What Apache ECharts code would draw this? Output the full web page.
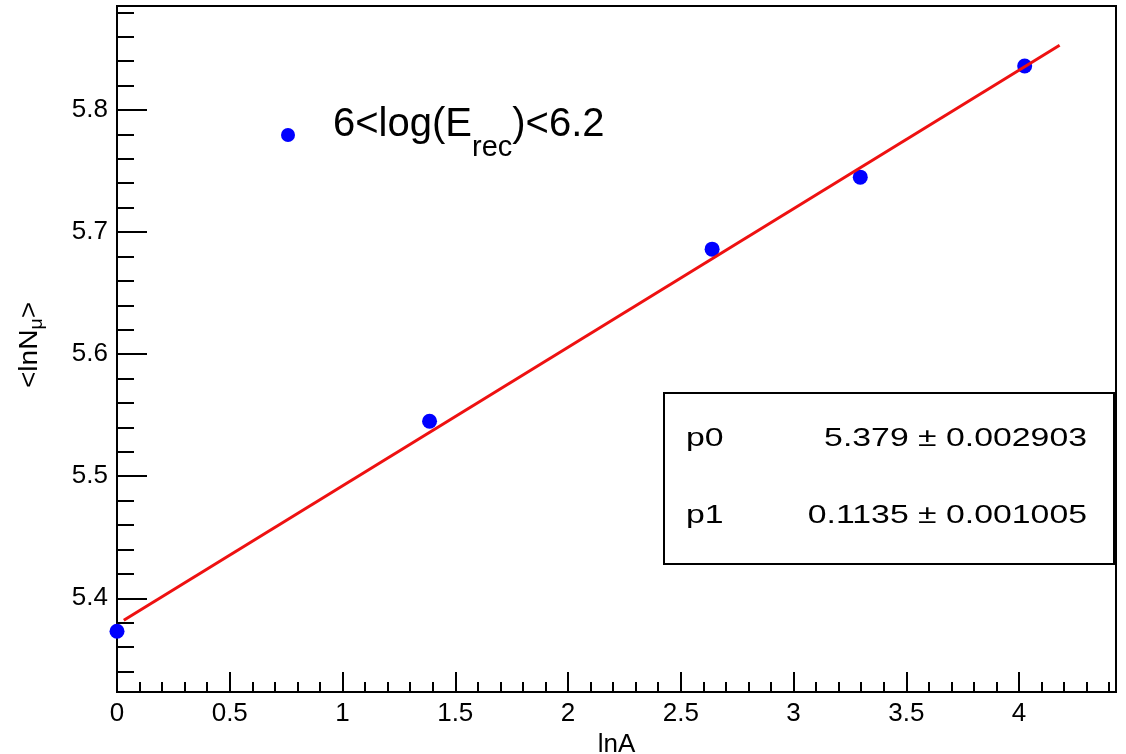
<!DOCTYPE html>
<html><head><meta charset="utf-8">
<script src="https://cdn.jsdelivr.net/npm/echarts@6/dist/echarts.min.js"></script>
<style>html,body{margin:0;padding:0;background:#fff}#c{width:1126px;height:754px}</style>
</head><body><div id="c"></div>
<script>
// ---- data ----
const lnA = [0, 1.386, 2.639, 3.296, 4.025];
const meanLnNmu = [5.373, 5.545, 5.686, 5.745, 5.836];
const fitX = [0.03, 4.18];
const fitY = [5.382, 5.853];
const seriesName = '6<log(E_rec)<6.2';
const xMajorTicks = [0, 0.5, 1, 1.5, 2, 2.5, 3, 3.5, 4];
const yMajorTicks = [5.4, 5.5, 5.6, 5.7, 5.8];
const fitParams = ['p0', 'p1'];
const fitValues = ['5.379 ± 0.002903', '0.1135 ± 0.001005'];
const xTitle = 'lnA';

const X_MIN = 0, X_MAX = 4.43, Y_MIN = 5.3232, Y_MAX = 5.8852;
const FONT = '"Liberation Sans", Arial, Helvetica, sans-serif';

const xMinorTicks = [];
for (let i = 1; i <= 44; i++) if (i % 5) xMinorTicks.push(+(i / 10).toFixed(2));
const yMinorTicks = [];
for (let k = 267; k <= 294; k++) if (k % 5) yMinorTicks.push(+(k * 0.02).toFixed(2));

const points = lnA.map((x, i) => [x, meanLnNmu[i]]);
const fitLine = fitX.map((x, i) => [x, fitY[i]]);

const black = '#000';
const chart = echarts.init(document.getElementById('c'));

function mainX() {
  return {
    type: 'value', min: X_MIN, max: X_MAX, position: 'bottom',
    axisLine: { show: true, onZero: false, lineStyle: { color: black, width: 2 } },
    axisTick: { show: true, inside: true, length: 20, lineStyle: { color: black, width: 2 }, customValues: xMajorTicks },
    axisLabel: { show: true, customValues: xMajorTicks, fontSize: 26, fontFamily: FONT, color: black, margin: 9 },
    splitLine: { show: false },
    name: xTitle, nameLocation: 'middle', nameGap: 38,
    nameTextStyle: { fontSize: 26, fontFamily: FONT, color: black }
  };
}
function minorX() {
  return {
    type: 'value', min: X_MIN, max: X_MAX, position: 'bottom',
    axisLine: { show: false },
    axisTick: { show: true, inside: true, length: 10, lineStyle: { color: black, width: 2 }, customValues: xMinorTicks },
    axisLabel: { show: false }, splitLine: { show: false }
  };
}
function mainY() {
  return {
    type: 'value', min: Y_MIN, max: Y_MAX, position: 'left',
    axisLine: { show: true, onZero: false, lineStyle: { color: black, width: 2 } },
    axisTick: { show: true, inside: true, length: 30, lineStyle: { color: black, width: 2 }, customValues: yMajorTicks },
    axisLabel: { show: true, customValues: yMajorTicks, fontSize: 26, fontFamily: FONT, color: black, margin: 9,
      formatter: v => v.toFixed(1) },
    splitLine: { show: false }
  };
}
function minorY() {
  return {
    type: 'value', min: Y_MIN, max: Y_MAX, position: 'left',
    axisLine: { show: false },
    axisTick: { show: true, inside: true, length: 17, lineStyle: { color: black, width: 2 }, customValues: yMinorTicks },
    axisLabel: { show: false }, splitLine: { show: false }
  };
}

const option = {
  animation: false,
  backgroundColor: '#fff',
  grid: { left: 117, top: 6, right: 10, bottom: 62, show: true, borderColor: black, borderWidth: 2,
    backgroundColor: 'transparent', containLabel: false, outerBoundsMode: 'none' },
  xAxis: [mainX(), minorX()],
  yAxis: [mainY(), minorY()],
  legend: {
    data: [seriesName], left: 281, top: 105, padding: 0,
    itemWidth: 80, itemHeight: 14, selectedMode: false,
    formatter: name => {
      const m = name.match(/^(.*)_(\w+)(\).*)$/);
      return '{m|' + m[1] + '}{s|' + m[2] + '}{m|' + m[3] + '}';
    },
    textStyle: {
      color: black, fontFamily: FONT,
      rich: {
        m: { fontSize: 40, fontFamily: FONT, color: black, lineHeight: 44, padding: [0, 0, 20, 0] },
        s: { fontSize: 29, fontFamily: FONT, color: black, lineHeight: 30, padding: [26, 0, 0, 0] }
      }
    }
  },
  series: [
    {
      name: seriesName, type: 'scatter', data: points, xAxisIndex: 0, yAxisIndex: 0,
      symbol: 'circle', symbolSize: 15, itemStyle: { color: '#0000ff', opacity: 1 }
    },
    {
      name: 'fit', type: 'line', data: fitLine, xAxisIndex: 0, yAxisIndex: 0,
      showSymbol: false, symbol: 'none', lineStyle: { color: '#ee1111', width: 3 }, z: 3
    }
  ],
  graphic: [
    { type: 'rect', shape: { x: 664, y: 393, width: 450, height: 171 },
      style: { fill: '#fff', stroke: black, lineWidth: 2 }, z: 10 },
    ...fitParams.map((p, i) => ({
      type: 'text', x: 686, y: 439 + i * 77, scaleX: 1.3, z: 11,
      style: { text: p, fontSize: 26, fontFamily: FONT, fill: black, align: 'left', verticalAlign: 'middle' }
    })),
    ...fitValues.map((v, i) => ({
      type: 'text', x: 1087, y: 439 + i * 77, scaleX: 1.3, z: 11,
      style: { text: v, fontSize: 26, fontFamily: FONT, fill: black, align: 'right', verticalAlign: 'middle' }
    })),
    { type: 'text', x: 30, y: 345, rotation: Math.PI / 2, scaleX: 1.08, z: 11,
      style: { text: '<lnN{s|μ}>', fontSize: 26, fontFamily: FONT, fill: black, align: 'center', verticalAlign: 'middle',
        rich: { s: { fontSize: 18, fontFamily: FONT, fill: black, padding: [14, 0, 0, 0] } } } }
  ]
};
chart.setOption(option);
</script></body></html>
